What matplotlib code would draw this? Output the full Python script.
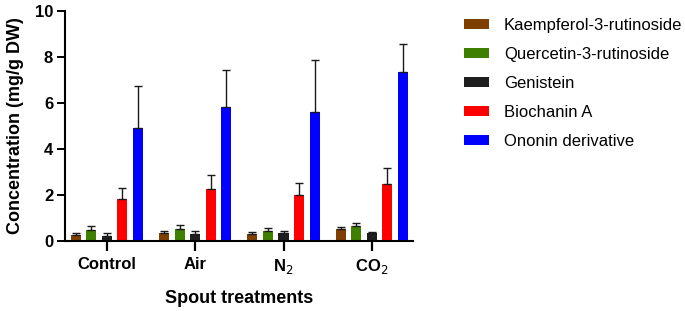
import matplotlib
matplotlib.use("Agg")
import matplotlib.pyplot as plt
import numpy as np

plt.rcParams['font.family'] = ['Liberation Sans', 'DejaVu Sans']

groups = ["Control", "Air", "N$_2$", "CO$_2$"]
series = ["Kaempferol-3-rutinoside", "Quercetin-3-rutinoside", "Genistein",
          "Biochanin A", "Ononin derivative"]
colors = ["#7F3F00", "#3F7F00", "#1E1E1E", "#FF0000", "#0000FF"]

kaempferol = [0.25, 0.32, 0.28, 0.50]
quercetin = [0.45, 0.50, 0.43, 0.65]
genistein = [0.20, 0.30, 0.32, 0.32]
biochanin = [1.82, 2.25, 2.00, 2.45]
ononin = [4.90, 5.83, 5.62, 7.35]

kaempferol_err = [0.10, 0.11, 0.12, 0.10]
quercetin_err = [0.17, 0.18, 0.12, 0.12]
genistein_err = [0.15, 0.12, 0.11, 0.08]
biochanin_err = [0.48, 0.63, 0.52, 0.70]
ononin_err = [1.82, 1.60, 2.26, 1.23]

values = [kaempferol, quercetin, genistein, biochanin, ononin]
errors = [kaempferol_err, quercetin_err, genistein_err, biochanin_err, ononin_err]

fig = plt.figure(figsize=(6.85, 3.11), dpi=100)
ax = fig.add_axes([0.0949, 0.226, 0.508, 0.739])

x = np.arange(len(groups))
step = 0.176
width = 0.115
for i, (vals, errs, c, name) in enumerate(zip(values, errors, colors, series)):
    pos = x + (i - 2) * step
    ax.bar(pos, vals, width=width, color=c, label=name, zorder=2)
    ax.errorbar(pos, vals, yerr=[np.zeros(len(errs)), errs], fmt='none',
                ecolor='#1a1a1a', elinewidth=1.0, capsize=2.6, capthick=1.0, zorder=3)

ax.set_xlim(-0.474, 3.466)
ax.set_ylim(0, 10)
ax.set_yticks([0, 2, 4, 6, 8, 10])
ax.set_xticks(x)
ax.set_xticklabels(groups, fontsize=12, fontweight='bold')
for lbl in ax.get_yticklabels():
    lbl.set_fontsize(12)
    lbl.set_fontweight('bold')
ax.tick_params(axis='y', direction='out', length=6, width=1.4, pad=2.5)
ax.tick_params(axis='x', direction='out', length=7, width=1.6, pad=5)
for s in ['top', 'right']:
    ax.spines[s].set_visible(False)
for s in ['left', 'bottom']:
    ax.spines[s].set_linewidth(1.5)

ax.set_ylabel("Concentration (mg/g DW)", fontsize=13, fontweight='bold', labelpad=8)
ax.set_xlabel("Spout treatments", fontsize=13, fontweight='bold', labelpad=10)

handles, labels = ax.get_legend_handles_labels()
fig.legend(handles, labels, loc='upper left', bbox_to_anchor=(0.665, 0.968),
           frameon=False, fontsize=12, handlelength=1.5, handleheight=0.55,
           handletextpad=0.9, labelspacing=0.83, borderpad=0)

fig.savefig("out.png", dpi=100)
